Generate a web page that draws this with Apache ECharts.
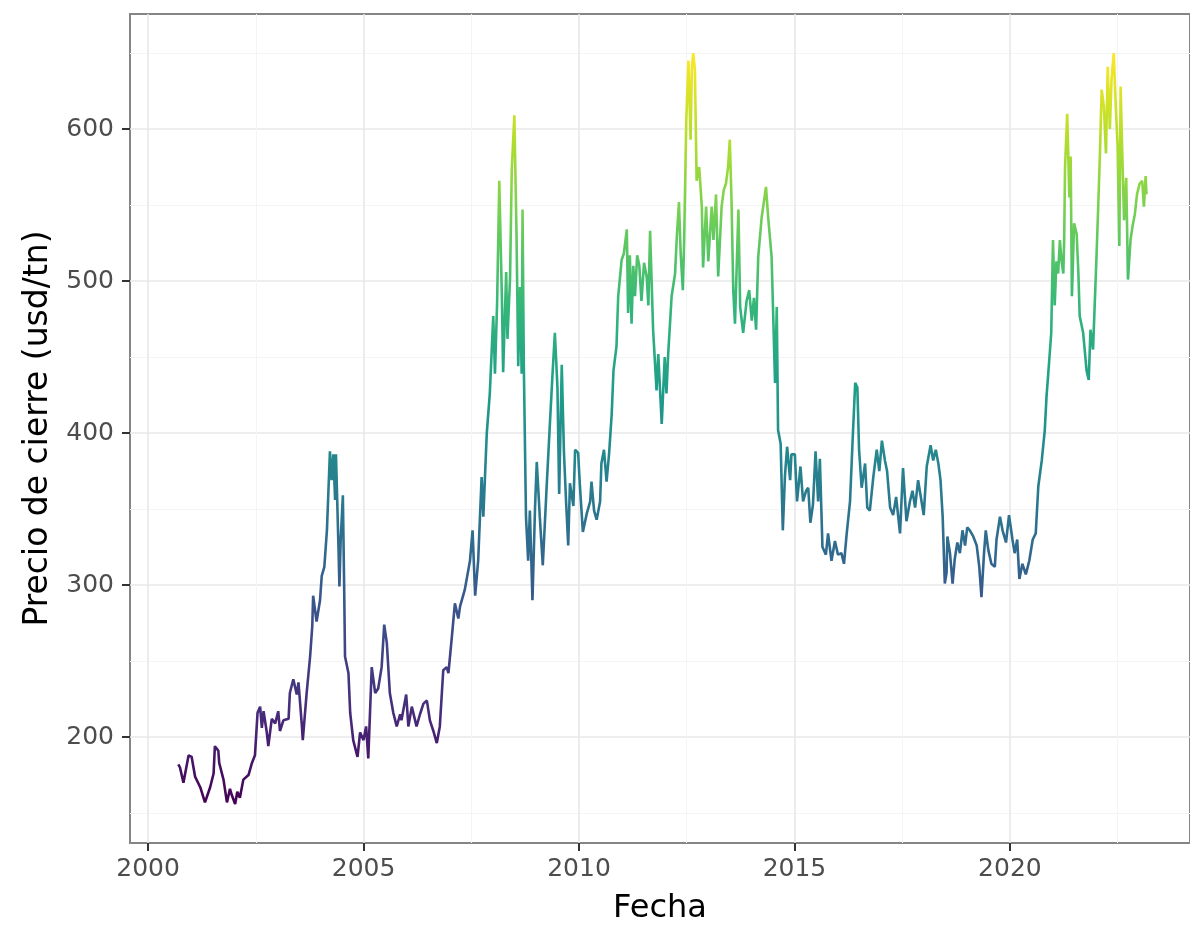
<!DOCTYPE html>
<html>
<head>
<meta charset="utf-8">
<title>Precio de cierre</title>
<script src="https://cdn.jsdelivr.net/npm/echarts@6/dist/echarts.min.js"></script>
<style>
  html, body { margin: 0; padding: 0; background: #fff; }
  #chart { width: 1190px; height: 930px; }
</style>
</head>
<body>
<div id="chart"></div>
<script>
// fecha (año decimal) y precio de cierre (usd/tn)
var fechas = [
  2000.70, 2000.74, 2000.82, 2000.94, 2001.01, 2001.09, 2001.21, 2001.32, 2001.44, 2001.52,
  2001.55, 2001.63, 2001.65, 2001.75, 2001.83, 2001.90, 2001.94, 2002.02, 2002.07, 2002.13,
  2002.21, 2002.33, 2002.41, 2002.48, 2002.54, 2002.60, 2002.64, 2002.68, 2002.75, 2002.79,
  2002.87, 2002.95, 2003.02, 2003.06, 2003.14, 2003.26, 2003.29, 2003.37, 2003.45, 2003.49,
  2003.57, 2003.59, 2003.68, 2003.76, 2003.81, 2003.83, 2003.91, 2003.99, 2004.03, 2004.09,
  2004.15, 2004.22, 2004.26, 2004.30, 2004.34, 2004.36, 2004.42, 2004.44, 2004.47, 2004.52,
  2004.55, 2004.57, 2004.65, 2004.69, 2004.76, 2004.86, 2004.92, 2005.00, 2005.06, 2005.11,
  2005.19, 2005.27, 2005.34, 2005.42, 2005.48, 2005.54, 2005.61, 2005.69, 2005.77, 2005.85,
  2005.88, 2005.99, 2006.04, 2006.12, 2006.23, 2006.31, 2006.39, 2006.47, 2006.54, 2006.62,
  2006.70, 2006.77, 2006.85, 2006.93, 2006.97, 2007.05, 2007.12, 2007.20, 2007.24, 2007.35,
  2007.47, 2007.53, 2007.59, 2007.66, 2007.74, 2007.78, 2007.86, 2007.93, 2008.01, 2008.05,
  2008.10, 2008.15, 2008.21, 2008.24, 2008.31, 2008.34, 2008.40, 2008.44, 2008.50, 2008.55,
  2008.59, 2008.63, 2008.67, 2008.69, 2008.72, 2008.77, 2008.82, 2008.86, 2008.92, 2008.98,
  2009.02, 2009.09, 2009.16, 2009.25, 2009.33, 2009.39, 2009.44, 2009.50, 2009.54, 2009.60,
  2009.65, 2009.70, 2009.75, 2009.79, 2009.87, 2009.91, 2009.98, 2010.02, 2010.09, 2010.18,
  2010.26, 2010.29, 2010.35, 2010.41, 2010.49, 2010.52, 2010.58, 2010.64, 2010.70, 2010.76,
  2010.80, 2010.87, 2010.91, 2010.99, 2011.04, 2011.11, 2011.14, 2011.18, 2011.22, 2011.26,
  2011.30, 2011.35, 2011.40, 2011.45, 2011.51, 2011.57, 2011.61, 2011.65, 2011.72, 2011.80,
  2011.84, 2011.92, 2011.99, 2012.03, 2012.07, 2012.15, 2012.23, 2012.27, 2012.32, 2012.36,
  2012.41, 2012.44, 2012.49, 2012.54, 2012.59, 2012.62, 2012.65, 2012.69, 2012.73, 2012.79,
  2012.85, 2012.88, 2012.95, 2013.00, 2013.08, 2013.12, 2013.18, 2013.23, 2013.31, 2013.36,
  2013.41, 2013.46, 2013.50, 2013.54, 2013.58, 2013.62, 2013.70, 2013.74, 2013.81, 2013.89,
  2013.95, 2014.01, 2014.06, 2014.11, 2014.16, 2014.24, 2014.34, 2014.39, 2014.47, 2014.55,
  2014.59, 2014.62, 2014.68, 2014.73, 2014.78, 2014.83, 2014.90, 2014.93, 2015.01, 2015.06,
  2015.14, 2015.20, 2015.27, 2015.32, 2015.37, 2015.43, 2015.49, 2015.55, 2015.59, 2015.65,
  2015.73, 2015.78, 2015.86, 2015.94, 2016.01, 2016.09, 2016.15, 2016.21, 2016.29, 2016.35,
  2016.41, 2016.46, 2016.50, 2016.56, 2016.64, 2016.69, 2016.75, 2016.83, 2016.91, 2016.97,
  2017.03, 2017.10, 2017.15, 2017.22, 2017.29, 2017.36, 2017.45, 2017.52, 2017.60, 2017.68,
  2017.74, 2017.80, 2017.87, 2017.95, 2018.00, 2018.07, 2018.16, 2018.22, 2018.28, 2018.34,
  2018.39, 2018.44, 2018.49, 2018.53, 2018.55, 2018.61, 2018.67, 2018.72, 2018.78, 2018.84,
  2018.90, 2018.96, 2019.01, 2019.07, 2019.15, 2019.23, 2019.29, 2019.34, 2019.40, 2019.44,
  2019.50, 2019.57, 2019.65, 2019.69, 2019.77, 2019.83, 2019.91, 2019.98, 2020.06, 2020.11,
  2020.17, 2020.22, 2020.29, 2020.37, 2020.45, 2020.53, 2020.60, 2020.66, 2020.74, 2020.81,
  2020.85, 2020.89, 2020.96, 2021.00, 2021.04, 2021.08, 2021.12, 2021.16, 2021.20, 2021.24,
  2021.26, 2021.28, 2021.33, 2021.38, 2021.41, 2021.44, 2021.49, 2021.55, 2021.59, 2021.62,
  2021.70, 2021.78, 2021.83, 2021.87, 2021.93, 2022.01, 2022.05, 2022.09, 2022.13, 2022.18,
  2022.23, 2022.27, 2022.32, 2022.36, 2022.41, 2022.46, 2022.50, 2022.54, 2022.57, 2022.61,
  2022.65, 2022.70, 2022.74, 2022.80, 2022.84, 2022.90, 2022.95, 2023.01, 2023.07, 2023.11,
  2023.15, 2023.17
];
var precios = [
  182, 180, 170, 188, 187, 174, 167, 157, 167, 176,
  194, 191, 183, 172, 157, 166, 162, 156, 164, 160,
  172, 175, 183, 188, 216, 220, 206, 217, 204, 194,
  212, 209, 217, 204, 211, 212, 229, 238, 228, 236,
  207, 198, 229, 253, 273, 293, 276, 290, 306, 312,
  336, 388, 369, 386, 356, 386, 323, 299, 330, 359,
  299, 253, 242, 216, 198, 187, 203, 198, 207, 186,
  246, 229, 232, 246, 274, 262, 229, 216, 207, 215,
  211, 228, 207, 220, 207, 215, 222, 224, 211, 204,
  196, 207, 244, 246, 242, 266, 288, 278, 286, 297,
  316, 336, 293, 316, 371, 345, 400, 426, 477, 439,
  486, 566, 490, 440, 506, 462, 502, 573, 609, 531,
  444, 496, 439, 547, 444, 345, 316, 349, 290, 351,
  381, 345, 313, 365, 409, 441, 466, 430, 360, 445,
  388, 355, 326, 367, 352, 389, 387, 366, 335, 347,
  355, 368, 349, 343, 355, 380, 389, 368, 387, 413,
  441, 457, 490, 514, 518, 534, 479, 517, 472, 510,
  490, 517, 510, 487, 512, 503, 484, 533, 468, 428,
  452, 406, 450, 426, 452, 490, 505, 529, 552, 518,
  494, 526, 606, 645, 593, 641, 650, 639, 566, 575,
  549, 509, 549, 513, 549, 527, 557, 503, 549, 560,
  564, 575, 593, 553, 494, 472, 547, 483, 466, 487,
  494, 474, 489, 468, 516, 542, 562, 542, 516, 433,
  483, 402, 393, 336, 372, 391, 369, 386, 386, 355,
  378, 355, 362, 364, 341, 353, 388, 355, 383, 325,
  320, 334, 316, 329, 320, 321, 314, 333, 355, 395,
  433, 430, 389, 364, 380, 351, 349, 371, 389, 375,
  395, 382, 375, 351, 346, 358, 334, 377, 342, 355,
  362, 351, 369, 355, 346, 378, 392, 382, 389, 380,
  369, 345, 301, 308, 332, 321, 301, 317, 328, 321,
  336, 326, 338, 336, 332, 326, 312, 292, 321, 336,
  323, 314, 312, 330, 345, 336, 328, 346, 330, 321,
  330, 304, 314, 307, 316, 330, 334, 365, 382, 402,
  424, 439, 466, 527, 484, 513, 505, 527, 513, 505,
  527, 575, 610, 555, 582, 490, 538, 531, 505, 477,
  466, 441, 435, 468, 455, 516, 549, 584, 626, 615,
  584, 641, 600, 633, 650, 613, 589, 523, 628, 582,
  540, 568, 501, 527, 535, 544, 557, 564, 566, 549,
  569, 557
];
var xTicks = [2000, 2005, 2010, 2015, 2020];
var yTicks = [200, 300, 400, 500, 600];
var viridis = ['#440154', '#482878', '#3e4989', '#31688e', '#26828e',
               '#1f9e89', '#35b779', '#6ece58', '#b5de2b', '#fde725'];

var serie = fechas.map(function (f, i) { return [f, precios[i]]; });

var chart = echarts.init(document.getElementById('chart'));
var fuente = 'DejaVu Sans';

var option = {
  backgroundColor: '#ffffff',
  animation: false,
  grid: {
    left: 130,
    right: 0,
    top: 14,
    bottom: 87,
    show: true,
    borderColor: '#858585',
    borderWidth: 2,
    backgroundColor: '#ffffff'
  },
  visualMap: {
    show: false,
    type: 'continuous',
    dimension: 1,
    min: Math.min.apply(null, precios),
    max: Math.max.apply(null, precios),
    inRange: { color: viridis }
  },
  xAxis: {
    type: 'value',
    min: 1999.58,
    max: 2024.18,
    splitNumber: 5,
    name: 'Fecha',
    nameLocation: 'middle',
    nameGap: 50,
    nameTextStyle: { fontFamily: fuente, fontSize: 32, color: '#000' },
    axisLine: { show: false },
    axisTick: { show: true, length: 8, customValues: xTicks,
                lineStyle: { color: '#333', width: 2 } },
    axisLabel: { customValues: xTicks, margin: 14, fontFamily: fuente,
                 fontSize: 25, color: '#4d4d4d',
                 formatter: function (v) { return String(v); } },
    splitLine: { show: true, lineStyle: { color: '#e8e8e8', width: 1.6 } },
    minorTick: { show: false, splitNumber: 2 },
    minorSplitLine: { show: true, lineStyle: { color: '#f4f4f4', width: 1 } }
  },
  yAxis: {
    type: 'value',
    min: 130.3,
    max: 675.7,
    splitNumber: 5,
    name: 'Precio de cierre (usd/tn)',
    nameLocation: 'middle',
    nameGap: 74,
    nameRotate: 90,
    nameTextStyle: { fontFamily: fuente, fontSize: 33, color: '#000' },
    axisLine: { show: false },
    axisTick: { show: true, length: 8, customValues: yTicks,
                lineStyle: { color: '#333', width: 2 } },
    axisLabel: { customValues: yTicks, margin: 16, fontFamily: fuente,
                 fontSize: 25, color: '#4d4d4d',
                 formatter: function (v) { return String(v); } },
    splitLine: { show: true, lineStyle: { color: '#e8e8e8', width: 1.6 } },
    minorTick: { show: false, splitNumber: 2 },
    minorSplitLine: { show: true, lineStyle: { color: '#f4f4f4', width: 1 } }
  },
  series: [{
    type: 'line',
    data: serie,
    showSymbol: false,
    lineStyle: { width: 2.6 }
  }]
};
chart.setOption(option);
</script>
</body>
</html>
